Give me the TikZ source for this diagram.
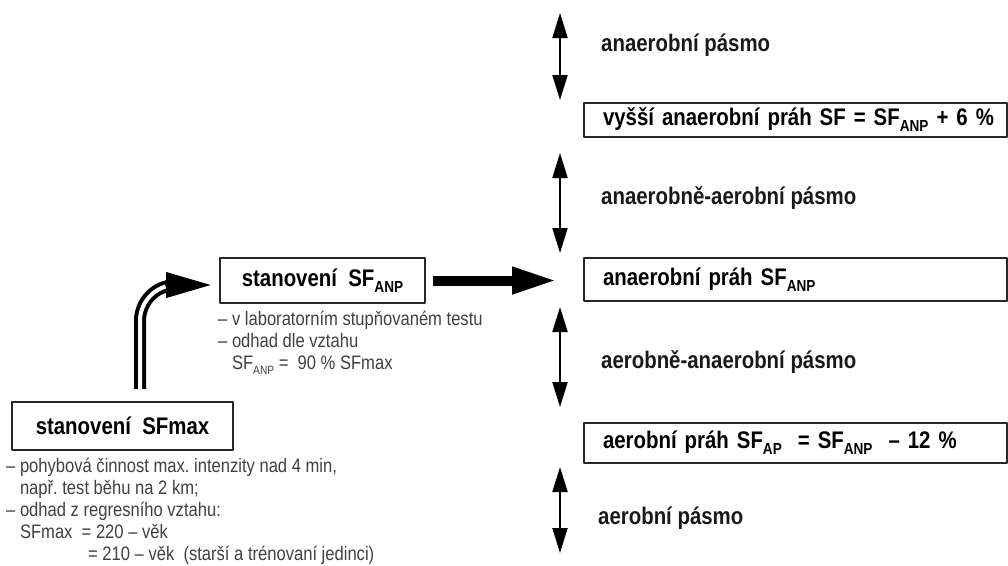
\documentclass[tikz,border=0pt]{standalone}
\usepackage{fontspec}
\setmainfont{Liberation Sans}
\newfontfamily\condfont[FakeStretch=0.85]{Liberation Sans}
\usetikzlibrary{arrows.meta}
\frenchspacing
\newcommand{\headfont}{\condfont\bfseries\fontsize{24}{28}\selectfont}
\newcommand{\notefont}{\condfont\fontsize{19.5}{22}\selectfont}
\newcommand{\lowtx}[1]{\raisebox{-0.25em}{\fontsize{16}{16}\selectfont #1}}
\newcommand{\lowsm}[1]{\raisebox{-0.25em}{\fontsize{12}{12}\selectfont #1}}

\begin{document}
\begin{tikzpicture}[x=1pt,y=-1pt,line cap=round,line join=round,
  box/.style={draw=black!85,line width=2pt,inner sep=0pt},
  bandbox/.style={box,anchor=west,minimum width=423pt,text width=423pt,align=left,font=\headfont},
  zone/.style={anchor=west,inner sep=0pt,font=\headfont,text=black!90},
  note/.style={anchor=north west,inner sep=0pt,align=left,font=\notefont,text=black!75},
  updown/.style={line width=2pt,{Triangle[length=25pt,width=15pt]}-{Triangle[length=25pt,width=15pt]}}]
\useasboundingbox (0,0) rectangle (1008,565);
% left part
\node [box,minimum width=221pt,minimum height=48pt,font=\headfont] (sfmax) at (122.5,426) {stanovení\ \ SFmax};
\node [note] (sfmaxtxt) at (6,458) {– pohybová činnost max. intenzity nad 4 min,\\
\hphantom{– }např. test běhu na 2 km;\\
– odhad z regresního vztahu:\\
\hphantom{– }SFmax\ \ = 220 – věk\\
\hspace{82pt}= 210 – věk\ \ (starší a trénovaní jedinci)};
\node [box,minimum width=205pt,minimum height=45pt,font=\headfont] (anp) at (322.5,280.5) {stanovení\ \ SF\lowtx{ANP}};
\node [note] (anptxt) at (218,311) {– v laboratorním stupňovaném testu\\
– odhad dle vztahu\\
\hphantom{– }SF\lowsm{ANP} =\ \ 90 \% SFmax};
% right part
\node [zone] (z1) at (601,45) {anaerobní pásmo};
\node [bandbox,minimum height=34pt] (b1) at (583,120) {\hspace*{19pt}vyšší anaerobní práh SF = SF\lowtx{ANP} + 6 \%};
\node [zone] (z2) at (601,198) {anaerobně-aerobní pásmo};
\node [bandbox,minimum height=43pt] (b2) at (583,279.5) {\hspace*{19pt}anaerobní práh SF\lowtx{ANP}};
\node [zone] (z3) at (601,362) {aerobně-anaerobní pásmo};
\node [bandbox,minimum height=40pt] (b3) at (583,443) {\hspace*{19pt}aerobní práh SF\lowtx{AP}\ \ = SF\lowtx{ANP}\ \ – 12 \%};
\node [zone] (z4) at (598,518) {aerobní pásmo};
% arrows
\draw [updown] (560,13) -- (560,100);
\draw [updown] (560,153) -- (560,253);
\draw [updown] (560,307) -- (560,407);
\draw [updown] (560,467) -- (560,553);
\coordinate (bend) at (172,285);
\draw [line width=4pt,double distance=4pt,line cap=butt,rounded corners=36pt] ([shift={(17.5pt,12pt)}]sfmax.north) |- (bend);
\draw [line width=4pt,-{Triangle[length=45pt,width=25pt]},shorten >=8pt] (bend) -- (anp.west |- bend);
\draw [line width=10pt,line cap=butt,-{Triangle[length=45pt,width=25pt]},shorten <=7pt,shorten >=26pt] (anp.east) -- (anp.east -| b2.west);
\end{tikzpicture}
\end{document}
